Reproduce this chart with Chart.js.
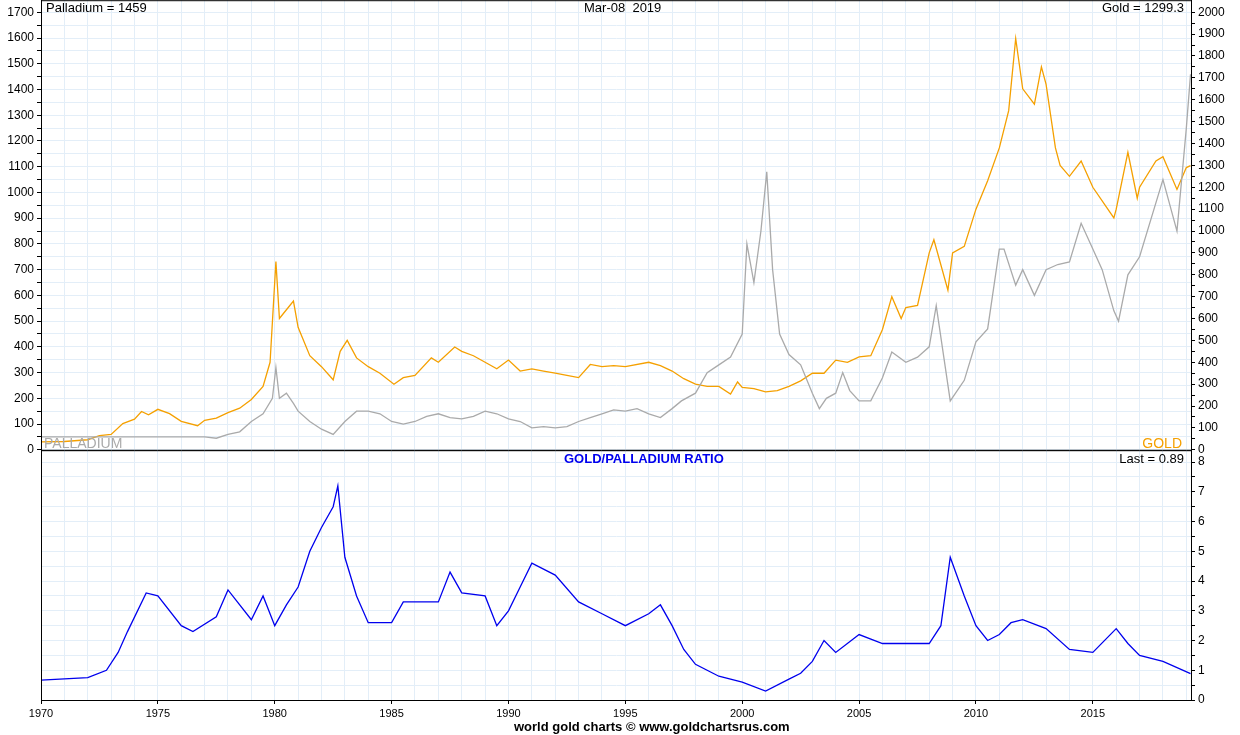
<!DOCTYPE html>
<html><head><meta charset="utf-8">
<script src="https://cdn.jsdelivr.net/npm/chart.js@4"></script>
<style>
body{margin:0;background:#fff;font-family:"Liberation Sans",Arial,sans-serif;overflow:hidden;}
#wrap{position:relative;width:1240px;height:735px;overflow:hidden;}
canvas{position:absolute;left:0;}
.t{position:absolute;font-size:13px;color:#000;white-space:nowrap;}
</style></head><body>
<div id="wrap">
<canvas id="c1" style="top:-10px"></canvas>
<canvas id="c2" style="top:440px"></canvas>
<div class="t" style="left:46px;top:0px">Palladium = 1459</div>
<div class="t" style="left:584px;top:0px">Mar-08&nbsp; 2019</div>
<div class="t" style="right:56px;top:0px">Gold = 1299.3</div>
<div class="t" style="left:44px;top:435px;color:#aaa;font-size:14px">PALLADIUM</div>
<div class="t" style="right:58px;top:435px;color:#f5a000;font-size:14px">GOLD</div>
<div class="t" style="left:564px;top:451px;color:#0000ee;font-weight:bold">GOLD/PALLADIUM RATIO</div>
<div class="t" style="right:56px;top:451px">Last = 0.89</div>
<div class="t" style="left:514px;top:719px;font-weight:bold">world gold charts © www.goldchartsrus.com</div>
</div>
<script>
const goldYears=[1970,1971,1972,1972.5,1973,1973.5,1974,1974.3,1974.6,1975,1975.5,1976,1976.7,1977,1977.5,1978,1978.5,1979,1979.5,1979.8,1980.05,1980.2,1980.5,1980.8,1981,1981.5,1982,1982.5,1982.8,1983.1,1983.5,1984,1984.5,1985.1,1985.5,1986,1986.7,1987,1987.7,1988,1988.5,1989,1989.5,1990,1990.5,1991,1991.5,1992,1992.5,1993,1993.5,1994,1994.5,1995,1996,1996.5,1997,1997.5,1998,1998.5,1999,1999.5,1999.8,2000,2000.5,2001,2001.5,2002,2002.5,2003,2003.5,2004,2004.5,2005,2005.5,2006,2006.4,2006.8,2007,2007.5,2008,2008.2,2008.8,2009,2009.5,2010,2010.5,2011,2011.4,2011.7,2012,2012.5,2012.8,2013,2013.4,2013.6,2014,2014.5,2015,2015.9,2016,2016.5,2016.9,2017,2017.7,2018,2018.6,2019,2019.18];
const goldVals=[36,38,46,65,70,120,140,175,160,185,165,130,110,135,145,170,190,230,290,400,860,600,640,680,560,430,380,320,450,500,420,380,350,300,330,340,420,400,470,450,430,400,370,410,360,370,360,350,340,330,390,380,385,380,400,385,360,325,300,290,290,255,310,285,280,265,270,290,315,350,350,410,400,425,430,550,700,600,650,660,900,960,730,900,930,1100,1230,1380,1550,1880,1650,1580,1750,1670,1380,1300,1250,1320,1200,1060,1100,1360,1150,1200,1320,1340,1190,1290,1299];
const palYears=[1970,1977,1977.5,1978,1978.5,1979,1979.5,1979.9,1980.05,1980.2,1980.5,1980.8,1981,1981.5,1982,1982.5,1983,1983.5,1984,1984.5,1985,1985.5,1986,1986.5,1987,1987.5,1988,1988.5,1989,1989.5,1990,1990.5,1991,1991.5,1992,1992.5,1993,1993.5,1994,1994.5,1995,1995.5,1996,1996.5,1997,1997.4,1998,1998.5,1999,1999.5,2000,2000.2,2000.5,2000.8,2001.05,2001.3,2001.6,2002,2002.5,2003,2003.3,2003.6,2004,2004.3,2004.6,2005,2005.5,2006,2006.4,2007,2007.5,2008,2008.3,2008.9,2009.5,2010,2010.5,2011,2011.2,2011.7,2012,2012.5,2013,2013.5,2014,2014.5,2015,2015.4,2015.9,2016.1,2016.5,2017,2017.5,2018,2018.3,2018.6,2019,2019.18];
const palVals=[50,50,45,60,70,110,140,200,320,200,220,180,150,110,80,60,110,150,150,140,110,100,110,130,140,125,120,130,150,140,120,110,85,90,85,90,110,125,140,155,150,160,140,125,160,190,220,300,330,360,450,800,650,850,1080,700,450,370,330,220,160,200,220,300,230,190,190,280,380,340,360,400,560,190,270,420,470,780,780,640,700,600,700,720,730,880,780,700,540,500,680,750,900,1050,950,850,1250,1459];
const ratioYears=[1970,1972,1972.8,1973.3,1973.7,1974.5,1975,1976,1976.5,1977.5,1978,1979,1979.5,1980,1980.5,1981,1981.5,1982,1982.5,1982.7,1983,1983.5,1984,1985,1985.5,1986,1987,1987.5,1988,1989,1989.5,1990,1990.5,1991,1992,1993,1994,1995,1996,1996.5,1997,1997.5,1998,1999,2000,2001,2002,2002.5,2003,2003.5,2004,2005,2006,2007,2008,2008.5,2008.9,2009.5,2010,2010.5,2011,2011.5,2012,2013,2014,2015,2016,2016.5,2017,2018,2019.18];
const ratioVals=[0.67,0.75,1.0,1.6,2.3,3.6,3.5,2.5,2.3,2.8,3.7,2.7,3.5,2.5,3.2,3.8,5.0,5.8,6.5,7.2,4.8,3.5,2.6,2.6,3.3,3.3,3.3,4.3,3.6,3.5,2.5,3.0,3.8,4.6,4.2,3.3,2.9,2.5,2.9,3.2,2.5,1.7,1.2,0.8,0.6,0.3,0.7,0.9,1.3,2.0,1.6,2.2,1.9,1.9,1.9,2.5,4.8,3.5,2.5,2.0,2.2,2.6,2.7,2.4,1.7,1.6,2.4,1.9,1.5,1.3,0.89];
const xMin=1970,xMax=2019.2;
const pts=(xs,ys)=>xs.map((x,i)=>({x,y:ys[i]}));
const gridC='#e3eef8';
const tickFont={family:'"Liberation Sans",Arial',size:12};
function fixW(w){return s=>{s.width=w;};}
function fixH(h){return s=>{s.height=h;};}
function stepTicks(max,step){return s=>{s.ticks=[];for(let v=0;v<=max+1e-9;v+=step)s.ticks.push({value:Math.round(v*100)/100});};}
const frame={id:'frame',afterDraw(c){const a=c.chartArea,x=c.ctx;x.save();x.strokeStyle='#000';x.lineWidth=1;x.strokeRect(a.left+0.5,a.top+0.5,a.right-a.left,a.bottom-a.top);x.restore();}};
const c1=document.getElementById('c1');c1.style.width='1240px';c1.style.height='470px';
new Chart(c1,{type:'line',data:{datasets:[
 {data:pts(palYears,palVals),yAxisID:'yL',borderColor:'#aaaaaa',borderWidth:1.3,pointRadius:0,tension:0},
 {data:pts(goldYears,goldVals),yAxisID:'yR',borderColor:'#f5a000',borderWidth:1.3,pointRadius:0,tension:0}]},
 options:{responsive:false,animation:false,layout:{padding:{top:10,bottom:0}},plugins:{legend:{display:false},tooltip:{enabled:false}},
 scales:{x:{type:'linear',min:xMin,max:xMax,afterFit:fixH(0),ticks:{display:false},grid:{color:gridC,drawTicks:false},border:{display:false},afterBuildTicks:s=>{s.ticks=[];for(let y=1970;y<=2019;y++)s.ticks.push({value:y});}},
 yL:{position:'left',min:0,max:1747,afterFit:fixW(41),afterBuildTicks:stepTicks(1700,50),ticks:{color:'#000',font:tickFont,autoSkip:false,callback:v=>v%100===0?v:''},grid:{color:gridC,tickColor:'#000',tickLength:4},border:{color:'#000'}},
 yR:{position:'right',min:0,max:2055,afterFit:fixW(49),afterBuildTicks:stepTicks(2000,50),ticks:{color:'#000',font:tickFont,autoSkip:false,callback:v=>v%100===0?v:''},grid:{tickColor:'#000',tickLength:4,drawOnChartArea:false},border:{color:'#000'}}}},plugins:[frame]});
const c2=document.getElementById('c2');c2.style.width='1240px';c2.style.height='295px';
new Chart(c2,{type:'line',data:{datasets:[{data:pts(ratioYears,ratioVals),yAxisID:'yR',borderColor:'#0000ee',borderWidth:1.3,pointRadius:0,tension:0}]},
 options:{responsive:false,animation:false,layout:{padding:{top:10,bottom:0}},plugins:{legend:{display:false},tooltip:{enabled:false}},
 scales:{x:{type:'linear',min:xMin,max:xMax,afterFit:fixH(35),ticks:{color:'#000',font:{family:'"Liberation Sans",Arial',size:11},autoSkip:false,maxRotation:0,callback:v=>Math.round(v)%5===0?String(Math.round(v)):''},afterBuildTicks:s=>{s.ticks=[];for(let y=1970;y<=2019;y++)s.ticks.push({value:y});},grid:{color:gridC,tickColor:c=>c.tick&&Math.round(c.tick.value)%5===0?'#000':'rgba(0,0,0,0)',tickLength:4},border:{color:'#000'}},
 yL:{position:'left',min:0,max:8.4,afterFit:fixW(41),afterBuildTicks:stepTicks(8,0.5),ticks:{display:false},grid:{color:gridC,drawTicks:false},border:{color:'#000'}},
 yR:{position:'right',min:0,max:8.4,afterFit:fixW(49),afterBuildTicks:stepTicks(8,0.5),ticks:{color:'#000',font:tickFont,autoSkip:false,callback:v=>Number.isInteger(v)?v:''},grid:{drawOnChartArea:false,tickColor:'#000',tickLength:4},border:{color:'#000'}}}},plugins:[frame]});
</script></body></html>
